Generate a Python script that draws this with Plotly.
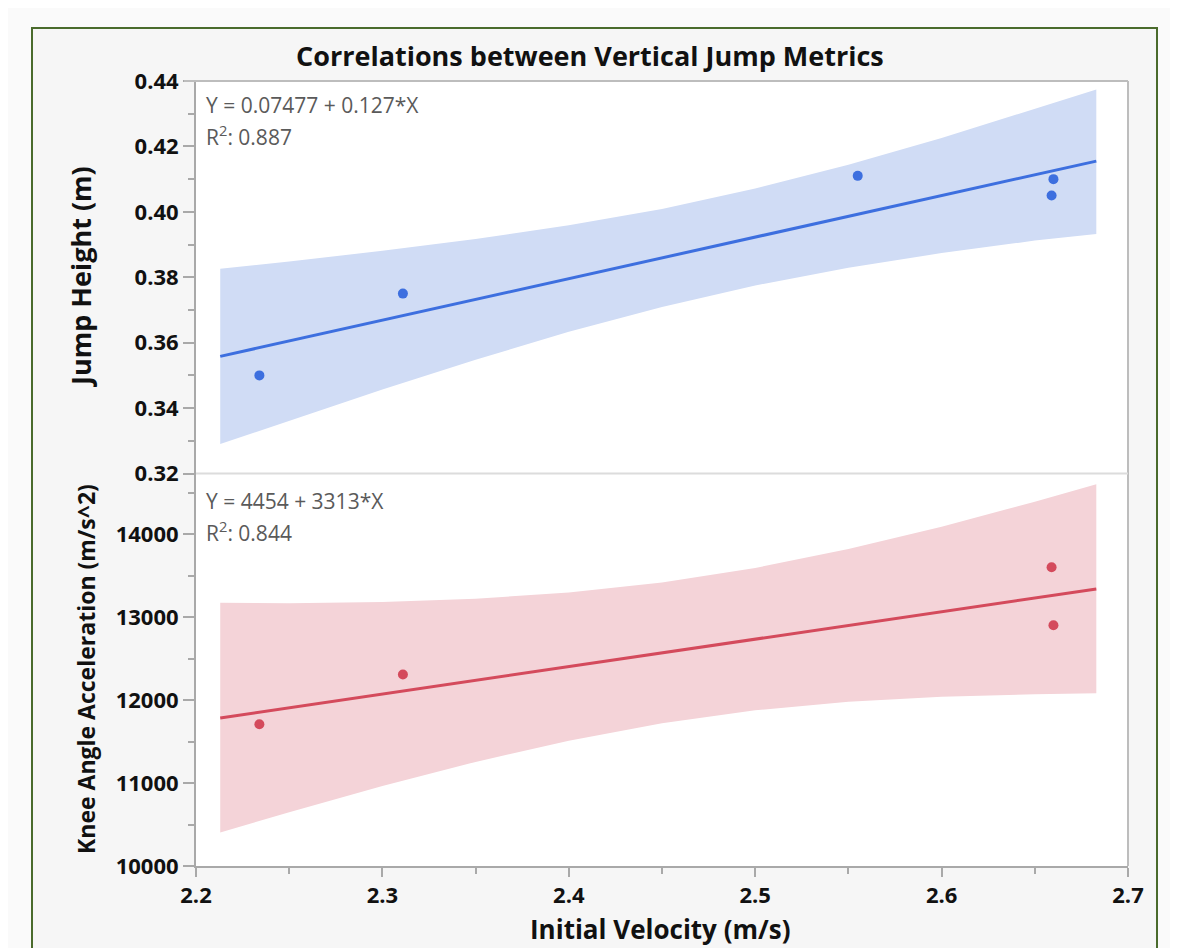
import plotly.graph_objects as go

# ---------------- data ----------------
vel_top = [2.234, 2.311, 2.555, 2.660, 2.659]
jump_height = [0.350, 0.375, 0.411, 0.410, 0.405]

vel_bot = [2.234, 2.311, 2.659, 2.660]
knee_acc = [11710, 12310, 13605, 12905]

fit_x = [2.213, 2.683]
top_intercept, top_slope = 0.07477, 0.127
bot_intercept, bot_slope = 4454, 3313
top_r2 = "0.887"
bot_r2 = "0.844"

band_x = [2.213, 2.25, 2.30, 2.35, 2.40, 2.45, 2.50, 2.55, 2.60, 2.65, 2.683]
top_upper = [0.3826, 0.3848, 0.3881, 0.3917, 0.3959, 0.4009, 0.4071, 0.4144, 0.4226, 0.4315, 0.4374]
top_lower = [0.3290, 0.3362, 0.3457, 0.3548, 0.3633, 0.3709, 0.3775, 0.3829, 0.3874, 0.3912, 0.3932]
bot_upper = [13175, 13170, 13184, 13224, 13298, 13420, 13596, 13823, 14094, 14395, 14605]
bot_lower = [10405, 10647, 10964, 11256, 11512, 11722, 11878, 11981, 12042, 12071, 12084]

x_ticks = [2.2, 2.3, 2.4, 2.5, 2.6, 2.7]
top_ticks = [0.32, 0.34, 0.36, 0.38, 0.40, 0.42, 0.44]
bot_ticks = [10000, 11000, 12000, 13000, 14000]

title = "Correlations between Vertical Jump Metrics"
x_title = "Initial Velocity (m/s)"
top_y_title = "Jump Height (m)"
bot_y_title = "Knee Angle Acceleration (m/s^2)"

# ---------------- style ----------------
BLUE = "#3d6fdf"
BLUE_BAND = "rgba(208,220,245,1)"
RED = "#d44a5c"
RED_BAND = "rgba(244,211,216,1)"
FONT = "Open Sans"
AX_GREY = "#a9a9a9"

# page has an 8px body margin, so the figure is shrunk by 8px and shifted
OFF = 8
W, H = 1178, 948
L, R, T, B = 196, 1128, 81, 866


def px(x):
    return (x - L) / (R - L)


def py(y):
    return (B - y) / (B - T)


fig = go.Figure()

# confidence bands
fig.add_trace(go.Scatter(
    x=band_x + band_x[::-1], y=top_upper + top_lower[::-1],
    fill="toself", fillcolor=BLUE_BAND, line=dict(width=0),
    mode="lines", hoverinfo="skip", showlegend=False, xaxis="x", yaxis="y"))
fig.add_trace(go.Scatter(
    x=band_x + band_x[::-1], y=bot_upper + bot_lower[::-1],
    fill="toself", fillcolor=RED_BAND, line=dict(width=0),
    mode="lines", hoverinfo="skip", showlegend=False, xaxis="x", yaxis="y2"))

# fit lines
fig.add_trace(go.Scatter(
    x=fit_x, y=[top_intercept + top_slope * v for v in fit_x],
    mode="lines", line=dict(color=BLUE, width=3), showlegend=False,
    xaxis="x", yaxis="y"))
fig.add_trace(go.Scatter(
    x=fit_x, y=[bot_intercept + bot_slope * v for v in fit_x],
    mode="lines", line=dict(color=RED, width=3), showlegend=False,
    xaxis="x", yaxis="y2"))

# points
fig.add_trace(go.Scatter(
    x=vel_top, y=jump_height, mode="markers",
    marker=dict(color=BLUE, size=10), showlegend=False, xaxis="x", yaxis="y"))
fig.add_trace(go.Scatter(
    x=vel_bot, y=knee_acc, mode="markers",
    marker=dict(color=RED, size=10), showlegend=False, xaxis="x", yaxis="y2"))

tickfont = dict(family=FONT, size=22, color="#111111", weight="bold")

fig.update_layout(
    width=W - OFF, height=H - OFF,
    margin=dict(l=L - OFF, r=W - R, t=T - OFF, b=H - B, autoexpand=False),
    paper_bgcolor="#fafafa",
    plot_bgcolor="rgba(0,0,0,0)",
    showlegend=False,
    xaxis=dict(
        domain=[0, 1], anchor="y2", range=[2.2, 2.7],
        tickvals=x_ticks, ticktext=[f"{v:.1f}" for v in x_ticks],
        showgrid=False, zeroline=False, showline=True, linecolor=AX_GREY, linewidth=2,
        ticks="outside", ticklen=9, tickwidth=1.5, tickcolor=AX_GREY,
        minor=dict(ticks="outside", ticklen=6, tickwidth=1.5, tickcolor=AX_GREY, dtick=0.05, tick0=2.2),
        tickfont=tickfont),
    yaxis=dict(
        domain=[0.5, 1], anchor="x", range=[0.32, 0.44],
        tickvals=top_ticks, ticktext=[f"{v:.2f}" for v in top_ticks],
        showgrid=False, zeroline=False, showline=True, linecolor=AX_GREY, linewidth=2,
        ticks="outside", ticklen=11, tickwidth=1.5, tickcolor=AX_GREY,
        minor=dict(ticks="outside", ticklen=6, tickwidth=1.5, tickcolor=AX_GREY, dtick=0.01, tick0=0.32),
        tickfont=tickfont),
    yaxis2=dict(
        domain=[0, 0.5], anchor="x", range=[10000, 14735],
        tickvals=bot_ticks, ticktext=[str(v) for v in bot_ticks],
        showgrid=False, zeroline=False, showline=True, linecolor=AX_GREY, linewidth=2,
        ticks="outside", ticklen=11, tickwidth=1.5, tickcolor=AX_GREY,
        minor=dict(ticks="outside", ticklen=6, tickwidth=1.5, tickcolor=AX_GREY, dtick=500, tick0=10000),
        tickfont=tickfont),
)

shapes = [
    # outer dark-green frame with light grey fill
    dict(type="rect", xref="paper", yref="paper",
         x0=px(32), x1=px(1157), y0=py(1000), y1=py(28),
         line=dict(color="#4a6b2c", width=2), fillcolor="#f6f6f6", layer="below"),
    # white plotting area
    dict(type="rect", xref="paper", yref="paper", x0=0, x1=1, y0=0, y1=1,
         line=dict(width=0), fillcolor="white", layer="below"),
    # top and right borders
    dict(type="line", xref="paper", yref="paper", x0=px(184), x1=1, y0=1, y1=1,
         line=dict(color="#bdbdbd", width=2), layer="above"),
    dict(type="line", xref="paper", yref="paper", x0=1, x1=1, y0=0, y1=1,
         line=dict(color="#bdbdbd", width=2), layer="above"),
    # divider between panels
    dict(type="line", xref="paper", yref="paper", x0=0, x1=1, y0=0.5, y1=0.5,
         line=dict(color="#dcdcdc", width=2), layer="above"),
]
fig.update_layout(shapes=shapes)

eq_font = dict(family=FONT, size=21, color="#5a5a5a")
annotations = [
    dict(text=f"<b>{title}</b>", xref="paper", yref="paper", x=px(590), y=py(55),
         xanchor="center", yanchor="middle", showarrow=False,
         font=dict(family=FONT, size=27, color="#111111")),
    dict(text=f"<b>{x_title}</b>", xref="paper", yref="paper", x=px(660), y=py(929),
         xanchor="center", yanchor="middle", showarrow=False,
         font=dict(family=FONT, size=26, color="#111111")),
    dict(text=f"<b>{top_y_title}</b>", xref="paper", yref="paper", x=px(81), y=py(277),
         xanchor="center", yanchor="middle", showarrow=False, textangle=-90,
         font=dict(family=FONT, size=27, color="#111111")),
    dict(text=f"<b>{bot_y_title}</b>", xref="paper", yref="paper", x=px(86), y=py(669),
         xanchor="center", yanchor="middle", showarrow=False, textangle=-90,
         font=dict(family=FONT, size=23, color="#111111")),
    dict(text=f"Y = {top_intercept} + {top_slope}*X", xref="paper", yref="paper",
         x=px(204), y=py(105), xanchor="left", yanchor="middle", showarrow=False, font=eq_font),
    dict(text=f"R<sup>2</sup>: {top_r2}", xref="paper", yref="paper",
         x=px(204), y=py(136), xanchor="left", yanchor="middle", showarrow=False, font=eq_font),
    dict(text=f"Y = {bot_intercept} + {bot_slope}*X", xref="paper", yref="paper",
         x=px(204), y=py(501), xanchor="left", yanchor="middle", showarrow=False, font=eq_font),
    dict(text=f"R<sup>2</sup>: {bot_r2}", xref="paper", yref="paper",
         x=px(204), y=py(531), xanchor="left", yanchor="middle", showarrow=False, font=eq_font),
]
fig.update_layout(annotations=annotations)

fig.write_html("out.html")
